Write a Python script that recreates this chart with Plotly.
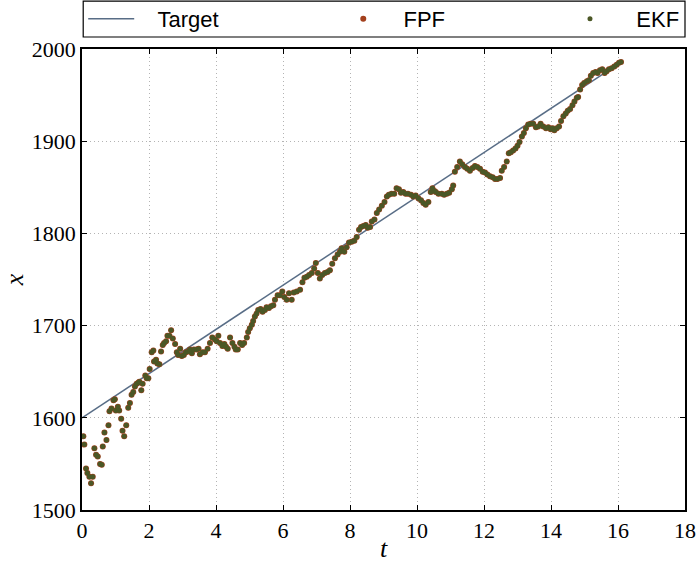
import plotly.graph_objects as go

# Target trajectory (straight line)
target_t = [0.0, 15.56]
target_x = [1600, 1973]

# Estimated trajectory
est_t = [0.04, 0.07, 0.12, 0.16, 0.22, 0.27, 0.32, 0.37, 0.42, 0.47, 0.54, 0.59, 0.62, 0.67, 0.73,
         0.79, 0.82, 0.88, 0.94, 0.98, 1.01, 1.07, 1.11, 1.17, 1.21, 1.26, 1.32, 1.38, 1.43, 1.48,
         1.53, 1.58, 1.63, 1.68, 1.71, 1.77, 1.81, 1.89, 1.93, 1.98, 2.02, 2.08, 2.13, 2.15, 2.21,
         2.25, 2.31, 2.36, 2.41, 2.45, 2.51, 2.55, 2.61, 2.66, 2.71, 2.78, 2.83, 2.87, 2.93, 2.98,
         3.04, 3.10, 3.17, 3.22, 3.28, 3.34, 3.42, 3.48, 3.52, 3.60, 3.67, 3.75, 3.82, 3.89, 3.97,
         4.02, 4.07, 4.12, 4.19, 4.25, 4.30, 4.35, 4.42, 4.49, 4.55, 4.59, 4.65, 4.72, 4.78, 4.84,
         4.92, 4.96, 5.01, 5.07, 5.11, 5.16, 5.21, 5.26, 5.33, 5.39, 5.46, 5.51, 5.58, 5.64, 5.71,
         5.76, 5.84, 5.91, 5.98, 6.04, 6.11, 6.18, 6.26, 6.32, 6.41, 6.51, 6.58, 6.64, 6.71, 6.78,
         6.86, 6.93, 6.98, 7.04, 7.10, 7.17, 7.25, 7.33, 7.40, 7.47, 7.55, 7.63, 7.70, 7.75, 7.83,
         7.90, 7.97, 8.05, 8.13, 8.20, 8.27, 8.33, 8.40, 8.47, 8.53, 8.60, 8.65, 8.73, 8.80, 8.87,
         8.95, 9.03, 9.10, 9.16, 9.24, 9.32, 9.39, 9.46, 9.52, 9.59, 9.66, 9.73, 9.82, 9.89, 9.96,
         10.04, 10.12, 10.19, 10.26, 10.34, 10.41, 10.46, 10.52, 10.56, 10.64, 10.74, 10.81, 10.89,
         10.96, 11.04, 11.08, 11.13, 11.20, 11.28, 11.35, 11.43, 11.50, 11.58, 11.66, 11.73, 11.80,
         11.88, 11.96, 12.03, 12.10, 12.18, 12.26, 12.33, 12.40, 12.48, 12.53, 12.60, 12.68, 12.74,
         12.80, 12.87, 12.94, 13.00, 13.06, 13.13, 13.19, 13.25, 13.32, 13.39, 13.47, 13.55, 13.62,
         13.69, 13.77, 13.85, 13.92, 13.99, 14.05, 14.10, 14.17, 14.24, 14.30, 14.37, 14.44, 14.50,
         14.57, 14.64, 14.70, 14.77, 14.81, 14.87, 14.93, 14.99, 15.07, 15.13, 15.19, 15.26, 15.33,
         15.39, 15.46, 15.53, 15.60, 15.66, 15.73, 15.81, 15.89, 15.96, 16.03, 16.09]
est_x = [1580, 1571, 1545, 1540, 1536, 1529, 1536, 1567, 1560, 1558, 1550, 1549, 1569, 1584, 1576,
         1592, 1607, 1610, 1619, 1620, 1608, 1612, 1608, 1599, 1586, 1580, 1592, 1611, 1616, 1625,
         1628, 1634, 1637, 1638, 1639, 1630, 1637, 1646, 1643, 1643, 1653, 1671, 1673, 1661, 1663,
         1659, 1658, 1672, 1679, 1681, 1683, 1689, 1689, 1695, 1686, 1680, 1671, 1668, 1675, 1667,
         1668, 1671, 1672, 1674, 1670, 1674, 1674, 1675, 1669, 1671, 1671, 1675, 1681, 1687, 1685,
         1683, 1689, 1681, 1678, 1680, 1677, 1675, 1687, 1681, 1677, 1674, 1674, 1681, 1679, 1681,
         1687, 1693, 1697, 1701, 1705, 1710, 1713, 1717, 1718, 1715, 1717, 1720, 1719, 1721, 1722,
         1728, 1733, 1733, 1737, 1731, 1728, 1735, 1728, 1736, 1737, 1739, 1747, 1752, 1753, 1755,
         1757, 1762, 1768, 1757, 1751, 1755, 1757, 1758, 1760, 1767, 1773, 1777, 1780, 1784, 1780,
         1785, 1790, 1791, 1792, 1796, 1804, 1807, 1808, 1809, 1806, 1807, 1813, 1815, 1822, 1826,
         1830, 1834, 1840, 1842, 1843, 1843, 1849, 1848, 1844, 1845, 1843, 1843, 1842, 1840, 1841,
         1838, 1836, 1833, 1831, 1834, 1845, 1849, 1846, 1845, 1843, 1843, 1842, 1843,
         1844, 1848, 1852, 1867, 1872, 1878, 1875, 1872, 1870, 1868, 1871, 1873, 1872,
         1870, 1867, 1866, 1864, 1862, 1861, 1859, 1859, 1860, 1868, 1872, 1878, 1887,
         1888, 1890, 1892, 1895, 1899, 1905, 1909, 1914, 1918, 1919, 1919, 1915, 1916,
         1919, 1916, 1914, 1915, 1913, 1914, 1912, 1914, 1916, 1922, 1927, 1930, 1933,
         1935, 1939, 1943, 1947, 1948, 1956, 1961, 1963, 1965, 1966, 1971, 1974, 1975,
         1974, 1977, 1978, 1974, 1976, 1978, 1979, 1981, 1983, 1985, 1986]

fpf_t = est_t
fpf_x = est_x
ekf_t = est_t
ekf_x = est_x

x_ticks = [0, 2, 4, 6, 8, 10, 12, 14, 16, 18]
y_ticks = [1500, 1600, 1700, 1800, 1900, 2000]

NB = "\u00a0"
fig = go.Figure()
fig.add_trace(go.Scatter(x=target_t, y=target_x, mode="lines", name=NB * 3 + "Target",
                         line=dict(color="#586d86", width=1.5), legend="legend"))
fig.add_trace(go.Scatter(x=fpf_t, y=fpf_x, mode="markers", name=NB * 2 + "FPF",
                         marker=dict(color="#a3401d", size=6, line=dict(width=0)), legend="legend2"))
fig.add_trace(go.Scatter(x=ekf_t, y=ekf_x, mode="markers", name=NB * 3 + "EKF",
                         marker=dict(color="#4b5726", size=5, line=dict(width=0)), legend="legend3"))

serif = "Liberation Serif, DejaVu Serif, serif"
sans = "Liberation Sans, Arial, sans-serif"
axis_common = dict(
    showline=True, linecolor="black", linewidth=1.5, mirror="allticks",
    ticks="inside", ticklen=5, tickwidth=1, tickcolor="black",
    showgrid=True, gridcolor="#b4b4b4", griddash="1px,3px", gridwidth=1,
    zeroline=False, tickfont=dict(family=serif, size=22, color="black"),
)

leg_common = dict(orientation="h", y=1.065, yanchor="middle", xanchor="left",
                  bgcolor="rgba(0,0,0,0)", borderwidth=0,
                  font=dict(family=sans, size=22, color="black"), itemwidth=46)

fig.update_layout(
    width=697, height=563,
    margin=dict(l=82, r=12, t=49, b=53, autoexpand=False),
    paper_bgcolor="white", plot_bgcolor="white",
    showlegend=True,
    legend=dict(x=0.002, **leg_common),
    legend2=dict(x=0.42, **leg_common),
    legend3=dict(x=0.796, **leg_common),
    shapes=[dict(type="rect", xref="paper", yref="paper", x0=0.002, x1=1.0,
                 y0=1.026, y1=1.104, line=dict(color="black", width=1.2),
                 fillcolor="rgba(0,0,0,0)", layer="above")],
    xaxis=dict(range=[0, 18], tickvals=x_ticks, ticktext=[str(v) for v in x_ticks],
               title=dict(text="<i>t</i>", font=dict(family=serif, size=26, color="black"), standoff=2),
               **axis_common),
    yaxis=dict(range=[1500, 2000], tickvals=y_ticks, ticktext=[str(v) for v in y_ticks],
               title=dict(text="<i>x</i>", font=dict(family=serif, size=26, color="black"), standoff=6),
               **axis_common),
)

fig.write_html("out.html")
